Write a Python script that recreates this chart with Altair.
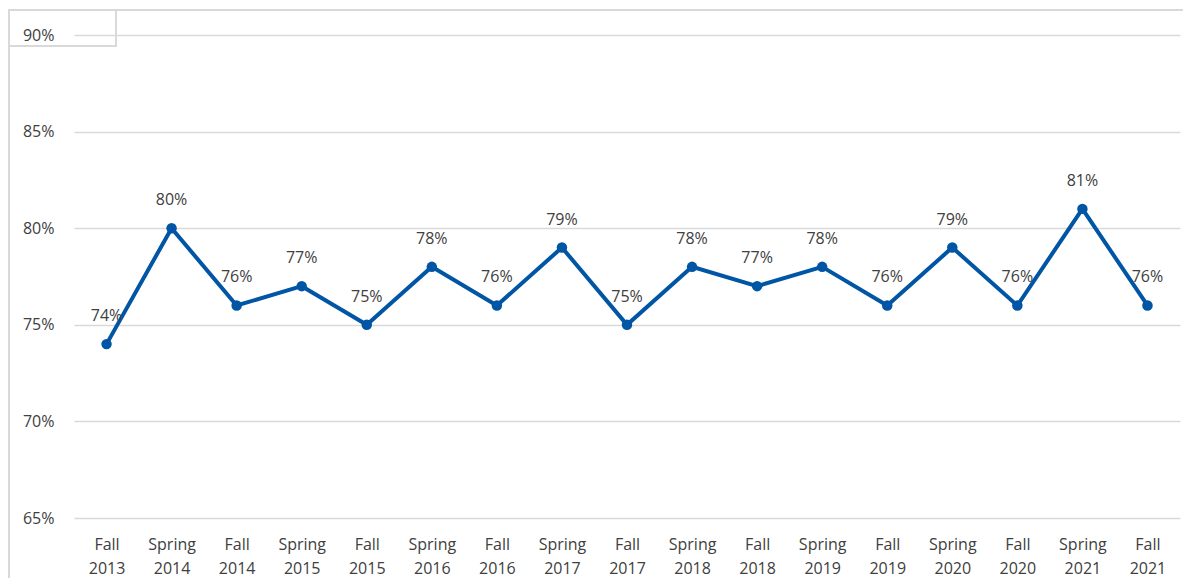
import altair as alt
import pandas as pd

terms = ["Fall 2013", "Spring 2014", "Fall 2014", "Spring 2015", "Fall 2015", "Spring 2016",
         "Fall 2016", "Spring 2017", "Fall 2017", "Spring 2018", "Fall 2018", "Spring 2019",
         "Fall 2019", "Spring 2020", "Fall 2020", "Spring 2021", "Fall 2021"]
rates = [0.74, 0.80, 0.76, 0.77, 0.75, 0.78, 0.76, 0.79, 0.75, 0.78, 0.77, 0.78,
         0.76, 0.79, 0.76, 0.81, 0.76]
y_ticks = [0.65, 0.70, 0.75, 0.80, 0.85, 0.90]

df = pd.DataFrame({"term": terms, "rate": rates})

W, H = 1106, 483
FONT = "Open Sans"
TXT = "#404040"
BLUE = "#0055A5"
GRID = "#d9d9d9"

x = alt.X("term:N", sort=terms, title=None,
          scale=alt.Scale(paddingInner=0, paddingOuter=0),
          axis=alt.Axis(labelAngle=0, labelExpr="split(datum.label, ' ')",
                        labelFontSize=16, labelColor=TXT, labelFont=FONT,
                        labelLineHeight=24, labelBaseline="top", labelPadding=18,
                        ticks=False, domain=False, grid=False))
y = alt.Y("rate:Q", title=None,
          scale=alt.Scale(domain=[0.65, 0.90], nice=False, zero=False),
          axis=alt.Axis(values=y_ticks, format=".0%", labelFontSize=16, labelColor=TXT,
                        labelFont=FONT, labelPadding=20, ticks=False, domain=False,
                        grid=True, gridColor=GRID, gridWidth=1.5))

base = alt.Chart(df)

left_edge = base.mark_rule(color=GRID, strokeWidth=1.5, clip=False).encode(
    x=alt.value(-65), y=alt.value(-25), y2=alt.value(H + 70))
top_edge = base.mark_rule(color=GRID, strokeWidth=1.5, clip=False).encode(
    x=alt.value(-65), x2=alt.value(W + 3), y=alt.value(-25))
box = base.mark_rect(fill="transparent", stroke=GRID, strokeWidth=1.5, clip=False).encode(
    x=alt.value(-65), x2=alt.value(42), y=alt.value(-25), y2=alt.value(11))

line = base.mark_line(color=BLUE, strokeWidth=4).encode(x=x, y=y)
pts = base.mark_point(filled=True, color=BLUE, size=110, opacity=1).encode(x=x, y=y)
labels = base.mark_text(dy=-28, fontSize=16, color=TXT, font=FONT).encode(
    x=x, y=y, text=alt.Text("rate:Q", format=".0%"))

chart = alt.layer(left_edge, top_edge, box, line, pts, labels).properties(
    width=W, height=H,
    background="white",
    autosize=alt.AutoSizeParams(type="none"),
    padding={"left": 66, "top": 27, "right": 3, "bottom": 60},
).configure_view(stroke="transparent", strokeWidth=0
).configure_axisX(grid=False, domain=False, ticks=False)

chart.save("out.html", embed_options={"renderer": "svg", "actions": False})
